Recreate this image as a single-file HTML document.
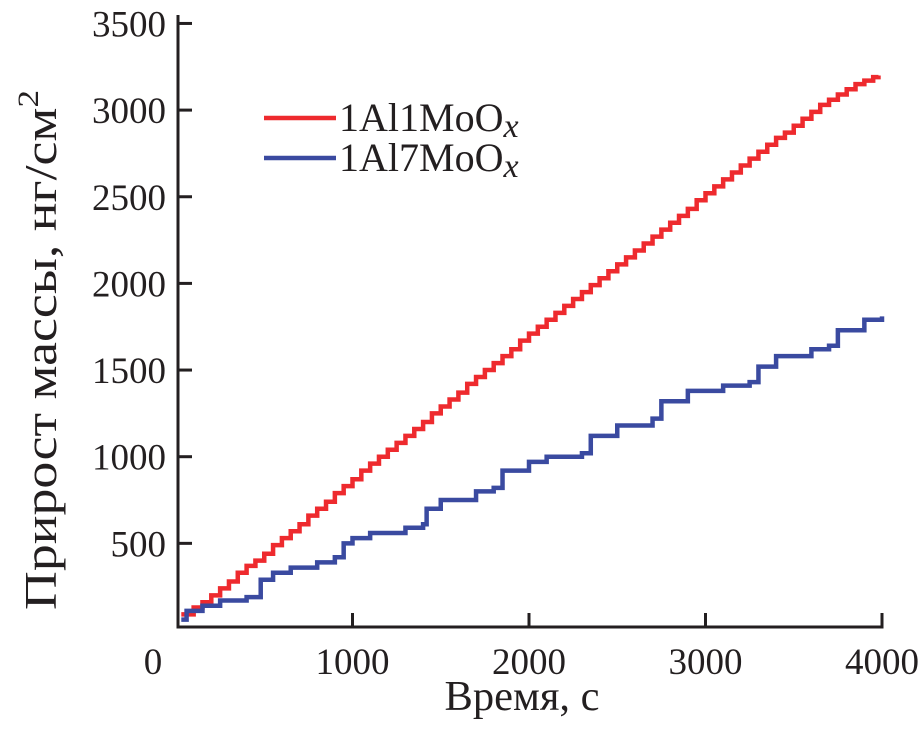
<!DOCTYPE html>
<html><head><meta charset="utf-8"><style>
html,body{margin:0;padding:0;background:#fff;}
svg text{font-family:"Liberation Serif",serif;fill:#231f20;}
</style></head><body>
<svg id="chart" width="922" height="724" xmlns="http://www.w3.org/2000/svg">
<g id="plot"></g>
</svg>
<script>
const xTicks=[0,1000,2000,3000,4000];
const yTicks=[500,1000,1500,2000,2500,3000,3500];
const redT=[30,100,150,200,250,300,350,400,450,500,550,600,650,700,750,800,850,900,950,1000,1050,1100,1150,1200,1250,1300,1350,1400,1450,1500,1550,1600,1650,1700,1750,1800,1850,1900,1950,2000,2050,2100,2150,2200,2250,2300,2350,2400,2450,2500,2550,2600,2650,2700,2750,2800,2850,2900,2950,3000,3050,3100,3150,3200,3250,3300,3350,3400,3450,3500,3550,3600,3650,3700,3750,3800,3850,3900,3950,3980];
const redV=[90,130,160,200,240,280,330,370,400,440,490,530,570,610,660,700,740,790,830,870,920,960,1000,1040,1080,1120,1160,1200,1250,1290,1330,1370,1420,1460,1500,1540,1580,1620,1670,1710,1750,1790,1830,1870,1910,1950,1990,2030,2070,2110,2150,2190,2230,2270,2310,2350,2390,2430,2480,2520,2560,2600,2640,2680,2720,2760,2800,2840,2870,2910,2950,2990,3030,3060,3090,3120,3150,3170,3190,3200];
const blueT=[30,60,150,250,400,480,550,650,800,900,950,1000,1100,1300,1400,1420,1500,1700,1800,1850,2000,2100,2300,2350,2500,2700,2750,2900,3100,3250,3300,3400,3600,3700,3750,3900,4000];
const blueV=[60,110,140,170,190,290,330,360,390,420,500,530,560,590,610,700,750,800,820,920,970,1000,1020,1120,1180,1220,1320,1380,1410,1430,1520,1580,1620,1640,1730,1790,1810];
const NS="http://www.w3.org/2000/svg";
const g=document.getElementById('plot');
const X=t=>176+t*0.1765;
const Y=v=>630-v*0.1733;
function el(tag,attrs,txt){const e=document.createElementNS(NS,tag);for(const k in attrs)e.setAttribute(k,attrs[k]);if(txt!==undefined)e.textContent=txt;g.appendChild(e);return e;}
const ax=el('path',{d:`M178,15 V627 H882 V613`,fill:'none',stroke:'#231f20','stroke-width':3});


xTicks.forEach(t=>{
 if(t>0&&t<4000){const l=el('line',{x1:X(t),x2:X(t),y1:627,y2:613,stroke:'#231f20','stroke-width':3});
 
 }
 const tx=el('text',{x:t===0?153:X(t),y:674,'font-size':37,'text-anchor':'middle'},String(t));
 
 
});
yTicks.forEach(v=>{
 const l=el('line',{x1:178,x2:192,y1:Y(v),y2:Y(v),stroke:'#231f20','stroke-width':3});
 
 
 const tx=el('text',{x:166,y:Y(v)+13,'font-size':37,'text-anchor':'end'},String(v));
 
 
});
function stepPath(T,V){let d=`M${X(T[0])},${Y(V[0])}`;for(let i=1;i<T.length;i++){d+=` H${X(T[i])} V${Y(V[i])}`;}return d;}
const rp=el('path',{d:stepPath(redT,redV),fill:'none',stroke:'#ee2a2e','stroke-width':4.5});


const bp=el('path',{d:stepPath(blueT,blueV),fill:'none',stroke:'#3a4aa0','stroke-width':4.5});


const l1=el('line',{x1:264,x2:336,y1:118,y2:118,stroke:'#ee2a2e','stroke-width':4.5});


const t1=el('text',{x:339,y:131,'font-size':40});
t1.innerHTML='1Al1MoO<tspan font-style="italic" dy="6" font-size="34">x</tspan>';


const l2=el('line',{x1:264,x2:336,y1:158,y2:158,stroke:'#3a4aa0','stroke-width':4.5});


const t2=el('text',{x:339,y:171,'font-size':40});
t2.innerHTML='1Al7MoO<tspan font-style="italic" dy="6" font-size="34">x</tspan>';


const xt=el('text',{x:522,y:710,'font-size':42,'text-anchor':'middle',textLength:155,lengthAdjust:'spacingAndGlyphs'},'Время, с');


const yt=el('text',{x:0,y:0,'font-size':46,'text-anchor':'middle',textLength:520,lengthAdjust:'spacingAndGlyphs',transform:'translate(56,350) rotate(-90)'});
yt.innerHTML='Прирост массы, нг/см<tspan dy="-18" font-size="30">2</tspan>';


</script>
</body></html>
